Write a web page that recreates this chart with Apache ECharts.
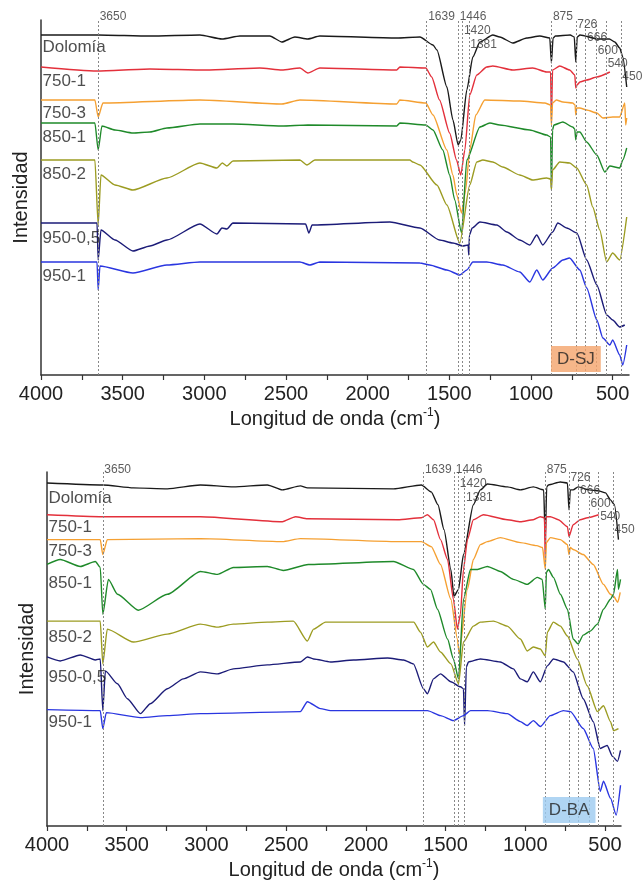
<!DOCTYPE html>
<html><head><meta charset="utf-8">
<script src="https://cdn.jsdelivr.net/npm/echarts@6/dist/echarts.min.js"></script>
<style>html,body{margin:0;padding:0;background:#fff}#c{width:642px;height:881px}</style>
</head><body><div id="c"></div>
<script>
// ---------- DATA (wavenumber cm-1, intensity a.u.) ----------
const curveNames = ['Dolomía','750-1','750-3','850-1','850-2','950-0,5','950-1'];
const curveColors = ['#1a1a1a','#e3303b','#f5a032','#1f8a2a','#9c9c22','#1c1c78','#2a36e0'];

// Panel D-SJ
const sjDolomia = [[4000,340],[3650,340],[3333,339],[3027,340],[2892,336],[2782,339],[2599,339],[2525,333],[2446,338],[2366,336],[2293,339],[1822,337],[1680,338],[1600,330],[1576,325],[1515,288],[1478,255],[1446,230],[1430,235],[1393,285],[1356,318],[1313,333],[1234,340],[1191,338],[1111,332],[1026,337],[946,339],[885,337],[875,312],[865,337],[850,339],[760,340],[735,338],[726,313],[717,338],[700,340],[590,336],[520,336],[487,333],[457,327],[438,318],[414,288]];
const sj7501 = [[4000,308],[3657,304],[3333,306],[2990,305],[2660,307],[2525,305],[2415,307],[2366,302],[2293,307],[1822,305],[1803,308],[1644,307],[1608,298],[1560,275],[1498,242],[1456,215],[1430,200],[1405,225],[1375,280],[1332,300],[1271,308],[1234,309],[1111,305],[989,307],[904,303],[880,303],[875,255],[868,305],[824,309],[763,305],[732,300],[726,287],[718,290],[701,293],[659,295],[597,298],[517,303]];
const sj7503 = [[4000,275],[3670,275],[3650,258],[3621,272],[3027,275],[2525,271],[2415,275],[1822,271],[1803,275],[1644,272],[1600,260],[1515,225],[1478,200],[1454,180],[1425,162],[1400,185],[1375,225],[1338,260],[1283,275],[1069,274],[915,272],[880,270],[875,250],[868,272],[845,275],[805,273],[745,272],[730,270],[726,260],[720,267],[701,267],[659,265],[597,262],[560,257],[500,258],[457,258],[426,272],[420,250],[414,257]];
const sj8501 = [[4000,252],[3670,252],[3650,225],[3627,249],[3547,245],[3437,242],[3333,243],[3229,247],[3027,251],[2825,251],[2525,249],[2366,250],[1822,249],[1803,252],[1644,250],[1600,245],[1540,225],[1498,200],[1467,175],[1425,142],[1393,215],[1313,248],[1252,252],[1191,250],[1007,245],[904,240],[880,238],[875,187],[868,245],[860,250],[805,253],[745,248],[732,246],[726,235],[718,243],[701,243],[659,233],[597,220],[548,203],[517,209],[457,207],[438,215],[414,227]];
const sj8502 = [[4000,215],[3670,215],[3650,150],[3633,200],[3547,190],[3437,185],[3229,197],[3027,212],[2923,207],[2890,212],[2862,209],[2825,214],[2415,215],[2372,210],[2323,215],[1742,215],[1724,213],[1680,210],[1576,190],[1515,170],[1436,132],[1375,190],[1332,213],[1295,215],[1234,213],[1173,208],[1069,200],[989,195],[904,197],[880,196],[875,185],[868,205],[824,213],[763,212],[720,207],[659,190],[622,168],[579,145],[537,113],[500,122],[457,115],[414,158]];
const sj9505 = [[4000,152],[3657,152],[3650,115],[3633,145],[3547,135],[3437,124],[3333,129],[3229,135],[3027,151],[2923,141],[2892,147],[2862,146],[2825,152],[2380,151],[2360,142],[2340,150],[1864,153],[1680,147],[1560,135],[1478,132],[1417,129],[1385,130],[1381,120],[1377,140],[1360,147],[1313,153],[1209,150],[1148,143],[1069,135],[1007,130],[965,140],[928,130],[867,143],[836,152],[781,147],[719,142],[659,115],[597,90],[536,60],[500,55],[457,48],[426,50]];
const sj9501 = [[4000,113],[3657,113],[3650,85],[3639,109],[3437,102],[3229,110],[3027,113],[2415,113],[2354,110],[2293,113],[1680,112],[1620,110],[1515,105],[1436,100],[1393,105],[1356,113],[1271,113],[1173,110],[1069,103],[1007,93],[965,105],[928,95],[867,107],[805,115],[764,117],[701,105],[659,87],[597,55],[560,37],[517,30],[500,35],[457,20],[438,10],[414,30]];

// Panel D-BA
const baDolomia = [[4000,345],[3650,343],[3458,340],[3245,339],[3038,343],[2831,341],[2618,343],[2524,338],[2411,342],[2367,340],[1827,339],[1652,343],[1590,336],[1548,323],[1510,298],[1467,258],[1448,231],[1419,238],[1388,273],[1326,323],[1282,338],[1238,344],[1113,341],[1031,338],[950,341],[885,338],[875,288],[866,341],[855,343],[780,346],[736,345],[726,318],[718,338],[700,338],[669,341],[600,338],[540,337],[497,335],[466,328],[441,323],[416,288]];
const ba7501 = [[4000,313],[3650,311],[3038,311],[2524,306],[2441,311],[2367,309],[1800,308],[1652,310],[1614,313],[1576,308],[1532,288],[1488,268],[1451,228],[1426,198],[1407,213],[1388,258],[1363,288],[1326,308],[1263,313],[1113,308],[1031,306],[950,308],[906,311],[880,310],[875,265],[870,311],[843,311],[793,308],[736,301],[726,291],[700,303],[656,308],[610,310],[540,313]];
const ba7503 = [[4000,288],[3666,288],[3650,273],[3622,288],[3038,289],[2524,286],[2411,289],[1800,286],[1652,286],[1590,281],[1532,263],[1467,228],[1426,188],[1415,173],[1363,238],[1326,268],[1282,283],[1238,286],[1157,290],[1031,285],[928,282],[892,280],[875,258],[868,285],[843,290],[780,288],[736,283],[726,273],[718,280],[700,278],[637,273],[574,263],[510,243],[466,233],[447,231],[420,225],[405,235]];
const ba8501 = [[4000,263],[3917,268],[3791,261],[3697,266],[3666,260],[3650,213],[3615,248],[3558,233],[3427,217],[3245,233],[3038,256],[2931,253],[2831,260],[2618,261],[2518,257],[2361,263],[1827,266],[1702,258],[1639,243],[1595,238],[1551,218],[1488,188],[1451,168],[1419,148],[1388,228],[1344,258],[1300,258],[1238,261],[1157,256],[1075,248],[988,243],[925,250],[894,248],[875,218],[868,255],[855,258],[824,250],[780,233],[736,218],[700,188],[669,183],[637,192],[593,196],[548,203],[510,218],[466,228],[447,233],[422,258],[416,238],[403,248]];
const ba8502 = [[4000,206],[3666,206],[3650,163],[3622,198],[3458,185],[3245,193],[3038,203],[2931,200],[2831,203],[2618,205],[2455,206],[2367,186],[2328,198],[2253,205],[1700,205],[1658,195],[1614,180],[1576,185],[1532,175],[1467,163],[1419,143],[1388,185],[1326,201],[1282,205],[1200,206],[1113,201],[1031,188],[988,176],[950,180],[906,178],[875,171],[862,195],[824,205],[780,201],[736,191],[674,168],[612,141],[548,115],[510,121],[466,105],[447,96],[416,98]];
const ba9505 = [[4000,170],[3917,166],[3791,172],[3697,167],[3666,168],[3650,116],[3634,156],[3558,143],[3496,128],[3414,113],[3352,123],[3245,138],[3145,148],[3038,155],[2931,153],[2831,158],[2618,162],[2411,165],[2367,170],[2328,168],[2222,165],[2077,167],[1864,169],[1764,167],[1702,163],[1639,138],[1614,133],[1576,148],[1532,153],[1467,145],[1407,140],[1388,138],[1381,101],[1370,160],[1357,165],[1282,168],[1157,165],[1075,158],[1031,148],[988,145],[950,155],[906,145],[862,161],[824,168],[761,165],[700,155],[637,128],[574,105],[530,78],[487,81],[453,70],[422,65],[403,76]];
const ba9501 = [[4000,117],[3666,116],[3650,98],[3628,114],[3414,109],[3245,111],[3038,113],[2411,115],[2367,125],[2285,118],[2222,116],[1614,116],[1532,111],[1451,106],[1388,111],[1344,116],[1238,116],[1113,113],[1031,105],[988,101],[950,106],[906,100],[843,111],[761,116],[717,115],[637,98],[574,78],[530,35],[510,45],[466,28],[430,11],[403,41]];

const sjSeries = [sjDolomia, sj7501, sj7503, sj8501, sj8502, sj9505, sj9501];
const baSeries = [baDolomia, ba7501, ba7503, ba8501, ba8502, ba9505, ba9501];

// curve name label heights (a.u.)
const sjLabelY = [328,294,262,238,201,137,99];
const baLabelY = [330,300,276,244,190,150,104];

// marked bands
const peakPositions = [3650,1639,1446,1420,1381,875,726,666,600,540,450];
const peakLabelY = [358,358,358,344,330,358,350,337,324,311,298];

// axis ticks
const xLabelValues = [4000,3500,3000,2500,2000,1500,1000,500];
const xTickValues = [4000,3750,3500,3250,3000,2750,2500,2250,2000,1750,1500,1250,1000,750,500];

const panelTags = ['D-SJ','D-BA'];
const tagColors = ['#f4a46c','#9ccbf0'];

// ---------- CHART ----------
const FONT = '"Liberation Sans", Arial, Helvetica, sans-serif';
const chart = echarts.init(document.getElementById('c'));

const grids = [
  {left:41, right:13, top:20, height:355},
  {left:47, right:21, top:472, height:356}
];
const yMax = [355, 356];

function makeX(i){
  return {
    type:'value', gridIndex:i, min:400, max:4000, inverse:true,
    name:'{t|Longitud de onda (cm}{s|-1}{t|)}', nameLocation:'middle', nameGap:32,
    nameTextStyle:{rich:{
      t:{fontSize:20, fontFamily:FONT, color:'#222'},
      s:{fontSize:12, fontFamily:FONT, color:'#222', padding:[0,0,12,0]}
    }},
    axisLine:{show:true, onZero:false, lineStyle:{color:'#333', width:1.5}},
    axisTick:{show:true, inside:false, length:5, customValues:xTickValues, lineStyle:{color:'#333', width:1.2}},
    axisLabel:{show:true, customValues:xLabelValues, formatter:v=>String(v), fontSize:20, fontFamily:FONT, color:'#222', margin:9},
    splitLine:{show:false}
  };
}
function makeY(i){
  return {
    type:'value', gridIndex:i, min:0, max:yMax[i],
    name:'Intensidad', nameLocation:'middle', nameGap:10, nameRotate:90,
    nameTextStyle:{fontSize:20, fontFamily:FONT, color:'#222'},
    axisLine:{show:true, onZero:false, lineStyle:{color:'#333', width:1.5}},
    axisTick:{show:false}, axisLabel:{show:false}, splitLine:{show:false}
  };
}

const series = [];
[sjSeries, baSeries].forEach((set, p) => {
  set.forEach((d, k) => {
    series.push({
      type:'line', xAxisIndex:p, yAxisIndex:p, name:curveNames[k]+'_'+p,
      data:d, showSymbol:false, symbol:'none', smooth:0.2, smoothMonotone:'x', z:3,
      lineStyle:{color:curveColors[k], width:1.4}, silent:true
    });
  });
  const ly = p === 0 ? sjLabelY : baLabelY;
  series.push({
    type:'scatter', xAxisIndex:p, yAxisIndex:p, symbolSize:1, clip:false, silent:true, z:5,
    itemStyle:{color:'rgba(0,0,0,0)'},
    data: curveNames.map((n,k)=>({name:n, value:[4000, ly[k]]})),
    label:{show:true, position:'right', distance:1, formatter:'{b}', fontSize:17, fontFamily:FONT, color:'#222'}
  });
  series.push({
    type:'scatter', xAxisIndex:p, yAxisIndex:p, symbolSize:1, clip:false, silent:true, z:5,
    itemStyle:{color:'rgba(0,0,0,0)'},
    data: peakPositions.map((w,k)=>({name:String(w), value:[w, peakLabelY[k]]})),
    label:{show:true, position:'right', distance:1, formatter:'{b}', fontSize:12, fontFamily:FONT, color:'#333'},
    markLine:{silent:true, symbol:'none', animation:false,
      lineStyle:{type:[2,2], color:'#888', width:1},
      label:{show:false},
      data: peakPositions.map(w=>({xAxis:w}))}
  });
  series.push({
    type:'scatter', xAxisIndex:p, yAxisIndex:p, symbolSize:1, clip:false, silent:true, z:6,
    itemStyle:{color:'rgba(0,0,0,0)'},
    data:[{name:panelTags[p], value:[725, 16]}],
    label:{show:true, position:'inside', formatter:'{b}', fontSize:17, fontFamily:FONT, color:'#222',
      backgroundColor:tagColors[p], padding:[5,6,4,6]}
  });
});

chart.setOption({
  animation:false,
  backgroundColor:'#fff',
  grid:grids,
  xAxis:[makeX(0), makeX(1)],
  yAxis:[makeY(0), makeY(1)],
  series:series
});
</script></body></html>
